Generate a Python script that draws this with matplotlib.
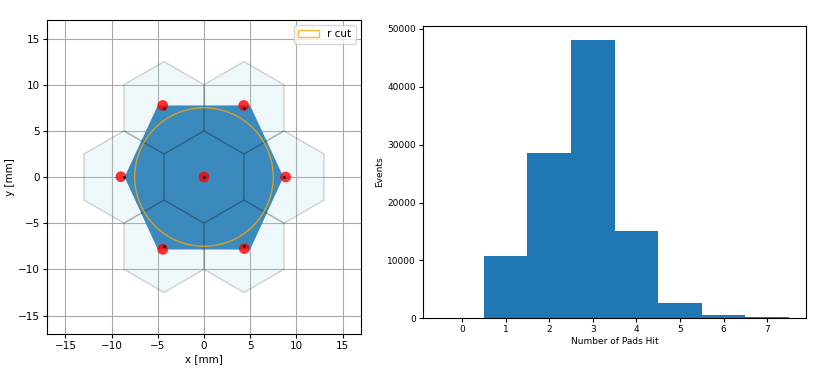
import numpy as np
import matplotlib
matplotlib.use("Agg")
import matplotlib.pyplot as plt
from matplotlib.patches import RegularPolygon, Polygon, Circle, Patch

# ---- data ----
pad_x = [0.0, 8.66, -8.66, 4.33, -4.33, 4.33, -4.33]
pad_y = [0.0, 0.0, 0.0, 7.5, 7.5, -7.5, -7.5]
pad_radius = 5.0

hit_x = [0.0, 8.84, -9.0, 4.30, -4.47, 4.37, -4.47]
hit_y = [0.0, 0.0, 0.03, 7.75, 7.75, -7.75, -7.83]

region_x = [-5.0, 5.0, 8.6, 5.0, -5.0, -8.6]
region_y = [7.75, 7.75, 0.0, -7.85, -7.85, 0.0]

r_cut = 7.5

n_pads = [0, 1, 2, 3, 4, 5, 6, 7]
events = [0, 10800, 28500, 48100, 15050, 2600, 520, 150]

fig = plt.figure(figsize=(8.13, 3.71), dpi=100)
ax1 = fig.add_axes([0.0578, 0.0997, 0.3862, 0.8463])
ax2 = fig.add_axes([0.520, 0.142, 0.472, 0.788])

fs = 7.5
# ---- left panel ----
ax1.set_axisbelow(True)
ax1.grid(True, color='#a8a8a8', linewidth=0.8)
ax1.add_patch(Polygon(np.column_stack([region_x, region_y]), closed=True,
                      facecolor='#1f77b4', edgecolor='none', zorder=2))
for px, py in zip(pad_x, pad_y):
    hexp = RegularPolygon((px, py), numVertices=6, radius=pad_radius,
                          orientation=0, facecolor=(173/255, 216/255, 230/255, 0.2),
                          edgecolor=(0, 0, 0, 0.17), linewidth=1.0, zorder=3)
    ax1.add_patch(hexp)
ax1.add_patch(Circle((0, 0), r_cut, fill=False, edgecolor='orange',
                     linewidth=1.0, alpha=0.8, zorder=4, label='r cut'))
ax1.scatter(hit_x, hit_y, s=60, color='red', alpha=0.8, edgecolors='none', zorder=5)
ax1.scatter(pad_x, pad_y, s=0.8, color='black', zorder=6)
ax1.set_xlim(-17, 17)
ax1.set_ylim(-17, 17)
ax1.set_aspect('equal')
ax1.set_xticks([-15, -10, -5, 0, 5, 10, 15])
ax1.set_yticks([-15, -10, -5, 0, 5, 10, 15])
ax1.set_xlabel('x [mm]', fontsize=fs, labelpad=2)
ax1.set_ylabel('y [mm]', fontsize=fs, labelpad=2)
ax1.tick_params(labelsize=fs, length=3, pad=2)
ax1.legend(handles=[Patch(facecolor='none', edgecolor='orange', alpha=0.8, label='r cut')],
           loc='upper right', fontsize=fs)

# ---- right panel ----
edges = np.arange(-0.5, 8.0, 1.0)
ax2.hist(n_pads, bins=edges, weights=events, color='#1f77b4')
ax2.set_xticks(n_pads)
ax2.set_xlabel('Number of Pads Hit', fontsize=6.5, labelpad=2)
ax2.set_ylabel('Events', fontsize=6.5, labelpad=2)
ax2.tick_params(labelsize=6.5, length=3, pad=2)

fig.savefig('out.png', dpi=100)
